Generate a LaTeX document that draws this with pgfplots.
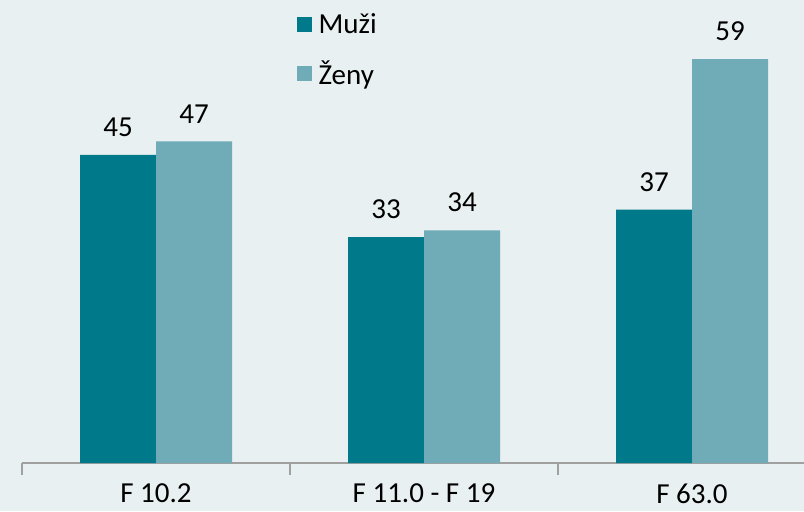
\documentclass[border=0pt]{standalone}
\usepackage{pgfplots}
\pgfplotsset{compat=1.18}
\usepackage{fontspec}
\setmainfont{Carlito}
\definecolor{bg}{RGB}{232,240,241}
\definecolor{muzi}{RGB}{0,122,138}
\definecolor{zeny}{RGB}{112,172,183}
\definecolor{axgray}{RGB}{160,160,160}
\begin{document}
\begin{tikzpicture}
\fill[bg] (0,0) rectangle (402pt,255.5pt);
\path[use as bounding box] (0,0) rectangle (402pt,255.5pt);
\begin{axis}[
  at={(11pt,24pt)}, anchor=south west,
  scale only axis,
  width=402pt, height=225.9pt,
  xmin=-0.5, xmax=2.5, ymin=0, ymax=66,
  ybar=0pt, bar width=38pt,
  axis x line=bottom, axis y line=none,
  x axis line style={axgray, line width=0.8pt, -},
  xtick={0,1,2},
  xticklabels={F 10.2, F 11.0 - F 19, F 63.0},
  major tick length=0pt,
  minor xtick={-0.5,0.5,1.5,2.5},
  minor tick length=6pt,
  tick align=outside,
  minor tick style={axgray, line width=0.8pt},
  xticklabel style={font=\fontsize{14.5}{17}\selectfont, yshift=-7pt},
  /pgf/number format/assume math mode=true,
  nodes near coords,
  every node near coord/.append style={font=\fontsize{14.5}{17}\selectfont, black, yshift=5.5pt},
  legend style={at={(0.341,1.005)}, anchor=north west, draw=none, fill=none,
    font=\fontsize{14.5}{17}\selectfont, row sep=8pt, inner sep=0pt,
    nodes={inner xsep=3.5pt}},
  legend cell align=left,
  legend image code/.code={\fill[#1] (0pt,-3.75pt) rectangle (7.5pt,3.75pt);},
]
\addplot[fill=muzi, draw=none] coordinates {(0,45) (1,33) (2,37)};
\addplot[fill=zeny, draw=none] coordinates {(0,47) (1,34) (2,59)};
\legend{Muži, Ženy}
\end{axis}
\end{tikzpicture}
\end{document}
